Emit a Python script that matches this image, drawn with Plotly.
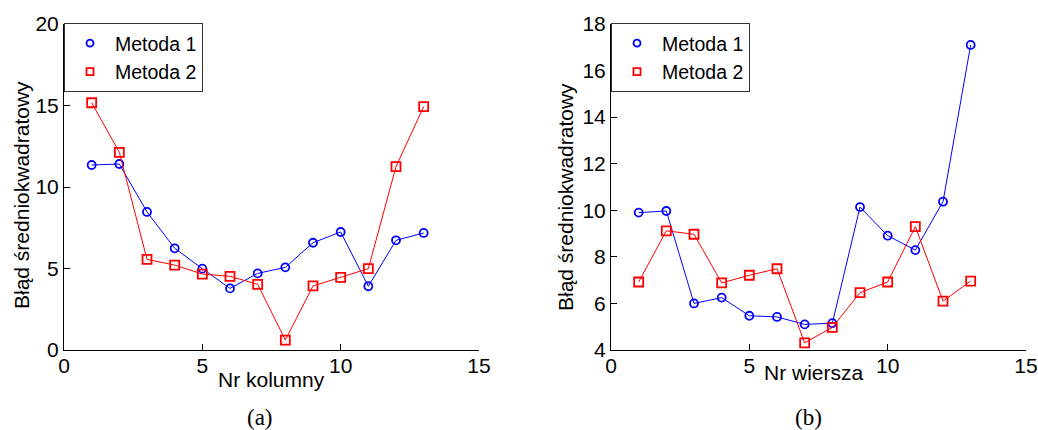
import plotly.graph_objects as go

x_idx = list(range(1, 14))

# (a) by column
col_m1 = [11.35, 11.41, 8.47, 6.24, 4.99, 3.78, 4.70, 5.07, 6.58, 7.24, 3.91, 6.73, 7.18]
col_m2 = [15.17, 12.13, 5.56, 5.21, 4.66, 4.52, 4.03, 0.61, 3.93, 4.46, 4.99, 11.25, 14.93]

# (b) by row
row_m1 = [9.90, 9.97, 6.00, 6.25, 5.47, 5.42, 5.10, 5.15, 10.14, 8.91, 8.29, 10.37, 17.10]
row_m2 = [6.92, 9.12, 8.97, 6.88, 7.21, 7.49, 4.31, 4.97, 6.46, 6.92, 9.30, 6.10, 6.96]

names = ["Metoda 1", "Metoda 2"]
ytitle = "Błąd średniokwadratowy"
xtitles = ["Nr kolumny", "Nr wiersza"]
captions = ["(a)", "(b)"]

W, H = 1038, 430
BLUE, RED = "#0000ff", "#ff0000"
FONT = "Liberation Sans, Arial, sans-serif"
FS = 21

fig = go.Figure()

def add_panel(xa, ya, m1, m2, leg):
    fig.add_trace(go.Scatter(x=x_idx, y=m1, mode="lines+markers", xaxis=xa, yaxis=ya,
                             line=dict(color=BLUE, width=1),
                             marker=dict(symbol="circle-open", size=8, color=BLUE, line=dict(width=1.8)),
                             showlegend=False))
    fig.add_trace(go.Scatter(x=x_idx, y=m2, mode="lines+markers", xaxis=xa, yaxis=ya,
                             line=dict(color=RED, width=1),
                             marker=dict(symbol="square-open", size=9, color=RED, line=dict(width=1.8)),
                             showlegend=False))
    # legend-only entries (marker without line, as in the original)
    fig.add_trace(go.Scatter(x=[None], y=[None], mode="markers", xaxis=xa, yaxis=ya, name=names[0],
                             marker=dict(symbol="circle-open", size=7, color=BLUE, line=dict(width=1.8)),
                             legend=leg))
    fig.add_trace(go.Scatter(x=[None], y=[None], mode="markers", xaxis=xa, yaxis=ya, name=names[1],
                             marker=dict(symbol="square-open", size=7, color=RED, line=dict(width=1.8)),
                             legend=leg))

add_panel("x", "y", col_m1, col_m2, "legend")
add_panel("x2", "y2", row_m1, row_m2, "legend2")

ybot = 1 - 350 / H
ytop = 1 - 24 / H
d1 = [64 / W, 479 / W]
d2 = [611 / W, 1026 / W]

axis_common = dict(showline=True, linecolor="black", linewidth=1, mirror=False, automargin=False,
                   ticks="inside", ticklen=6, tickcolor="black", showgrid=False, zeroline=False,
                   tickfont=dict(family=FONT, size=FS, color="black"))

legend_common = dict(xanchor="left", yanchor="top", bgcolor="white",
                     bordercolor="#333333", borderwidth=1, itemwidth=40,
                     font=dict(family=FONT, size=19.5, color="black"), tracegroupgap=0)

fig.update_layout(
    width=W, height=H, margin=dict(l=0, r=0, t=0, b=0, autoexpand=False),
    paper_bgcolor="white", plot_bgcolor="white",
    xaxis=dict(domain=d1, range=[0, 15], tickvals=[0, 5, 10, 15], anchor="y",
               ticklabelstandoff=-3, **axis_common),
    yaxis=dict(domain=[ybot, ytop], range=[0, 20], tickvals=[0, 5, 10, 15, 20], anchor="x", **axis_common),
    xaxis2=dict(domain=d2, range=[0, 15], tickvals=[0, 5, 10, 15], anchor="y2",
                ticklabelstandoff=-3, **axis_common),
    yaxis2=dict(domain=[ybot, ytop], range=[4, 18], tickvals=[4, 6, 8, 10, 12, 14, 16, 18], anchor="x2", **axis_common),
    legend=dict(x=64 / W, y=1 - 23 / H, **legend_common),
    legend2=dict(x=611 / W, y=1 - 23 / H, **legend_common),
)

ann = []
for cx, cy in [(22, 195), (565, 197)]:
    ann.append(dict(text=ytitle, x=cx / W, y=1 - cy / H, xref="paper", yref="paper",
                    textangle=-90, showarrow=False, xanchor="center", yanchor="middle",
                    font=dict(family=FONT, size=FS, color="black")))
for t, cx, cy in [(xtitles[0], 271, 379), (xtitles[1], 813, 372)]:
    ann.append(dict(text=t, x=cx / W, y=1 - cy / H, xref="paper", yref="paper",
                    showarrow=False, xanchor="center", yanchor="middle",
                    font=dict(family=FONT, size=FS, color="black")))
for t, cx in [(captions[0], 260), (captions[1], 808)]:
    ann.append(dict(text=t, x=cx / W, y=1 - 417 / H, xref="paper", yref="paper",
                    showarrow=False, xanchor="center", yanchor="middle",
                    font=dict(family="Liberation Serif, Times New Roman, serif", size=23, color="black")))
fig.update_layout(annotations=ann)

fig.write_html("out.html")
